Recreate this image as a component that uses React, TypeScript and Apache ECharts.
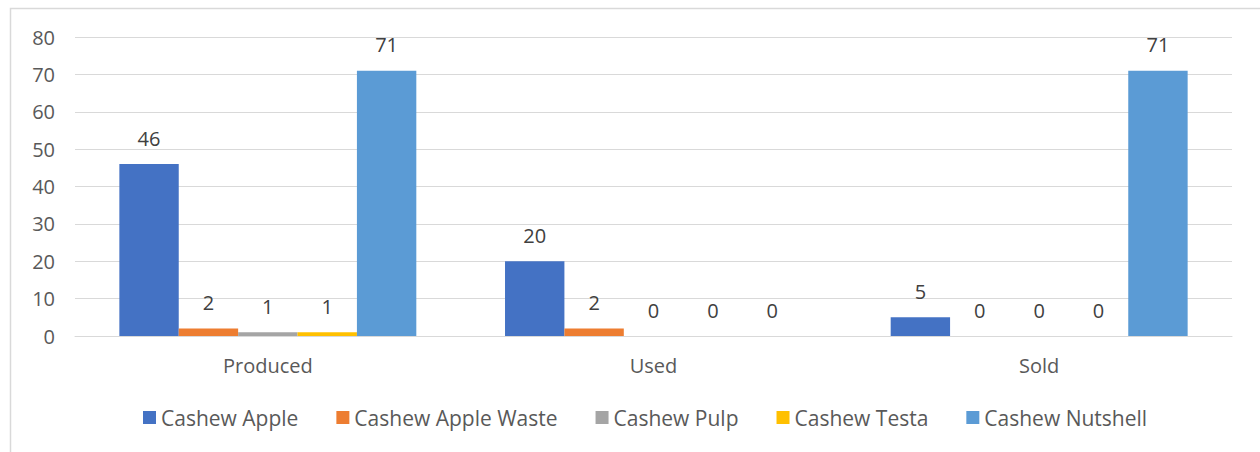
import React, { useEffect, useRef } from "react";
import * as echarts from "echarts";

const categories = ["Produced", "Used", "Sold"];
const seriesNames = ["Cashew Apple", "Cashew Apple Waste", "Cashew Pulp", "Cashew Testa", "Cashew Nutshell"];
const cashewApple = [46, 20, 5];
const cashewAppleWaste = [2, 2, 0];
const cashewPulp = [1, 0, 0];
const cashewTesta = [1, 0, 0];
const cashewNutshell = [71, 0, 71];
const colors = ["#4472C4", "#ED7D31", "#A5A5A5", "#FFC000", "#5B9BD5"];

export default function App() {
  const ref = useRef<HTMLDivElement>(null);
  useEffect(() => {
    if (!ref.current) return;
    const chart = echarts.init(ref.current, null, { renderer: "svg" });
    const font = "'Open Sans', sans-serif";
    const values = [cashewApple, cashewAppleWaste, cashewPulp, cashewTesta, cashewNutshell];
    chart.setOption({
      animation: false,
      textStyle: { fontFamily: font },
      graphic: [
        {
          type: "rect",
          shape: { x: 10.5, y: 8.5, width: 1300, height: 500 },
          style: { fill: "none", stroke: "#D9D9D9", lineWidth: 1.5 },
          silent: true,
        },
      ],
      grid: { left: 75, right: 28, top: 37, bottom: 116, containLabel: false },
      legend: {
        bottom: 19,
        left: 138,
        itemWidth: 13,
        itemHeight: 13,
        itemGap: 38,
        icon: "rect",
        textStyle: { fontSize: 21, color: "#595959", fontFamily: font },
        data: seriesNames,
      },
      xAxis: {
        type: "category",
        data: categories,
        axisLine: { show: true, lineStyle: { color: "#D9D9D9", width: 1 } },
        axisTick: { show: false },
        axisLabel: { fontSize: 20, color: "#595959", margin: 19, fontFamily: font },
      },
      yAxis: {
        type: "value",
        min: 0,
        max: 80,
        interval: 10,
        axisLine: { show: false },
        axisTick: { show: false },
        splitLine: { lineStyle: { color: "#D9D9D9", width: 1 } },
        axisLabel: { fontSize: 20, color: "#595959", margin: 20, fontFamily: font },
      },
      series: seriesNames.map((name, i) => ({
        name,
        type: "bar",
        data: values[i],
        barGap: "0%",
        barCategoryGap: "23%",
        itemStyle: { color: colors[i] },
        label: {
          show: true,
          position: "top",
          distance: 16,
          fontSize: 20,
          color: "#404040",
          fontFamily: font,
        },
      })),
    });
    return () => chart.dispose();
  }, []);
  return (
    <div style={{ position: "absolute", left: 0, top: 0, width: 1260, height: 452, background: "#fff" }}>
      <div ref={ref} style={{ width: 1260, height: 452 }} />
    </div>
  );
}
